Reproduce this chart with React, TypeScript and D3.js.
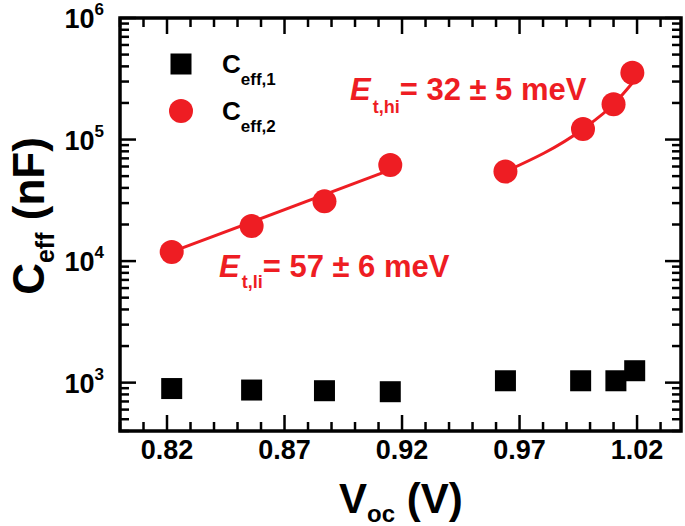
import React from "react";
import * as d3 from "d3";

// values
const vocC1 = [0.822, 0.856, 0.887, 0.915, 0.964, 0.996, 1.011, 1.019];
const ceff1 = [894, 869, 858, 842, 1036, 1036, 1036, 1253];
const vocC2 = [0.822, 0.856, 0.887, 0.915, 0.964, 0.997, 1.010, 1.018];
const ceff2 = [11900, 19400, 31000, 61800, 54500, 122000, 195000, 355000];

// fit lines
const fitLiV = [0.822, 0.915];
const fitLiC = [11900, 56200];
const fitHiV = [0.964, 0.997, 1.010, 1.018];
const fitHiC = [54500, 122000, 195000, 292000];

const xMajor = [0.82, 0.87, 0.92, 0.97, 1.02];
const yExponents = [3, 4, 5, 6];

const RED = "#ee1d23";
const FONT = "'Liberation Sans', Arial, sans-serif";

const width = 685;
const height = 526;
const margin = { top: 18, right: 4, bottom: 95, left: 120 };

const App: React.FC = () => {
  const x = d3
    .scaleLinear()
    .domain([0.8, 1.0387])
    .range([margin.left, width - margin.right]);
  const y = d3
    .scaleLog()
    .domain([400, 1e6])
    .range([height - margin.bottom, margin.top]);

  const [x0, x1] = x.range();
  const [yb, yt] = y.range();

  const xMinor = d3.range(80, 104).map((d) => d / 100);
  const yMinor: number[] = [];
  [100, 1000, 10000, 100000].forEach((dec) =>
    d3.range(2, 10).forEach((m) => {
      const v = m * dec;
      if (v >= 400 && v < 1e6) yMinor.push(v);
    })
  );

  const MAJ = 16;
  const MIN = 9;

  const line = d3
    .line<[number, number]>()
    .x((d) => x(d[0]))
    .y((d) => y(d[1]));
  const curve = d3
    .line<[number, number]>()
    .x((d) => x(d[0]))
    .y((d) => y(d[1]))
    .curve(d3.curveMonotoneX);

  const liPts = fitLiV.map((v, i) => [v, fitLiC[i]] as [number, number]);
  const hiPts = fitHiV.map((v, i) => [v, fitHiC[i]] as [number, number]);

  return (
    <svg
      width={width}
      height={height}
      style={{ position: "absolute", left: 0, top: 0, background: "#fff" }}
      fontFamily={FONT}
      fontWeight="bold"
    >
      {/* ticks, all four sides */}
      <g stroke="#000" strokeWidth={2.5}>
        {xMinor.map((v) => {
          const isMaj = xMajor.some((m) => Math.abs(m - v) < 1e-6);
          const len = isMaj ? MAJ : MIN;
          return (
            <g key={"x" + v}>
              <line x1={x(v)} x2={x(v)} y1={yb} y2={yb - len} />
              <line x1={x(v)} x2={x(v)} y1={yt} y2={yt + len} />
            </g>
          );
        })}
        {yExponents.map((e) => (
          <g key={"ye" + e}>
            <line x1={x0} x2={x0 + MAJ} y1={y(10 ** e)} y2={y(10 ** e)} />
            <line x1={x1} x2={x1 - MAJ} y1={y(10 ** e)} y2={y(10 ** e)} />
          </g>
        ))}
        {yMinor.map((v) => (
          <g key={"ym" + v}>
            <line x1={x0} x2={x0 + MIN} y1={y(v)} y2={y(v)} />
            <line x1={x1} x2={x1 - MIN} y1={y(v)} y2={y(v)} />
          </g>
        ))}
      </g>
      <rect
        x={x0}
        y={yt}
        width={x1 - x0}
        height={yb - yt}
        fill="none"
        stroke="#000"
        strokeWidth={3.5}
      />

      {/* x tick labels */}
      {xMajor.map((v) => (
        <text key={"xl" + v} x={x(v)} y={yb + 28} fontSize={27} textAnchor="middle">
          {v.toFixed(2)}
        </text>
      ))}
      {/* y tick labels */}
      {yExponents.map((e) => (
        <text key={"yl" + e} x={104} y={y(10 ** e) + 10} fontSize={27} textAnchor="end">
          10
          <tspan fontSize={17} dy={-13}>
            {e}
          </tspan>
        </text>
      ))}

      {/* axis titles */}
      <text x={339} y={513} fontSize={42}>
        V
        <tspan fontSize={24} dy={9}>
          oc
        </tspan>
        <tspan dy={-9}> (V)</tspan>
      </text>
      <text transform="translate(44,216) rotate(-90)" fontSize={44} textAnchor="middle">
        C
        <tspan fontSize={25} dy={10}>
          eff
        </tspan>
        <tspan dy={-10}> (nF)</tspan>
      </text>

      {/* fit lines */}
      <path d={line(liPts) ?? ""} fill="none" stroke={RED} strokeWidth={3} />
      <path d={curve(hiPts) ?? ""} fill="none" stroke={RED} strokeWidth={3} />

      {/* data */}
      {vocC1.map((v, i) => (
        <rect
          key={"s" + i}
          x={x(v) - 10.5}
          y={y(ceff1[i]) - 10.5}
          width={21}
          height={21}
          fill="#000"
        />
      ))}
      {vocC2.map((v, i) => (
        <circle key={"c" + i} cx={x(v)} cy={y(ceff2[i])} r={12} fill={RED} />
      ))}

      {/* legend */}
      <rect x={170.5} y={53.5} width={21} height={21} fill="#000" />
      <circle cx={181} cy={111} r={12} fill={RED} />
      <text x={222} y={73} fontSize={26}>
        C
        <tspan fontSize={17} dy={12}>
          eff,1
        </tspan>
      </text>
      <text x={222} y={120} fontSize={26}>
        C
        <tspan fontSize={17} dy={12}>
          eff,2
        </tspan>
      </text>

      {/* annotations */}
      <text x={350} y={100} fontSize={31} fill={RED}>
        <tspan fontStyle="italic">E</tspan>
        <tspan fontSize={18} dy={13} dx={2}>
          t,hi
        </tspan>
        <tspan dy={-13}>= 32 ± 5 meV</tspan>
      </text>
      <text x={219} y={277} fontSize={31} fill={RED}>
        <tspan fontStyle="italic">E</tspan>
        <tspan fontSize={18} dy={11} dx={2}>
          t,li
        </tspan>
        <tspan dy={-11}>= 57 ± 6 meV</tspan>
      </text>
    </svg>
  );
};

export default App;
